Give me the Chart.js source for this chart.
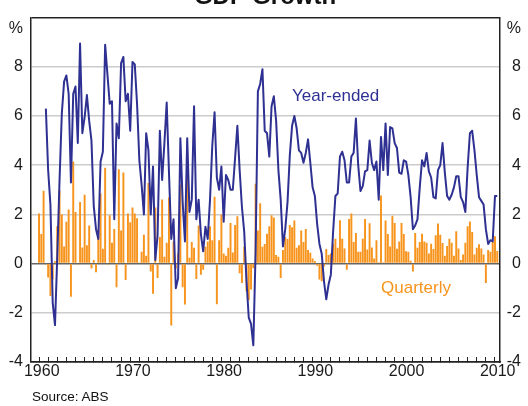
<!DOCTYPE html>
<html>
<head>
<meta charset="utf-8">
<title>GDP Growth</title>
<script src="https://cdn.jsdelivr.net/npm/chart.js@4.4.1/dist/chart.umd.min.js"></script>
<style>
  html, body { margin: 0; padding: 0; background: #fff; overflow: hidden; }
  .wrap { position: relative; width: 528px; height: 406px; overflow: hidden; font-family: "Liberation Sans", Arial, sans-serif; color: #111; }
  .title { position: absolute; left: 0; top: -16px; width: 530px; text-align: center; font-weight: bold; font-size: 24px; line-height: 24px; }
  .source { position: absolute; left: 32px; top: 389px; font-size: 13.5px; line-height: 16px; }
  canvas { position: absolute; left: 0; top: 0; }
</style>
</head>
<body>
<div class="wrap">
  <canvas id="chartGdp" width="528" height="406"></canvas>
  <div class="title">GDP Growth</div>
  <div class="source">Source: ABS</div>
</div>
<script>
"use strict";

//--------------------------------data---------------------------------
// first quarter of the series: Dec quarter 1959
const firstYear = 1959;
const firstQuarter = 4;

// quarterly growth, %
const quarterly = [
    2.04, 1.2, 2.96, -0.05, -0.56, -1.32, -0.65, 0.1, 1.52, 2.97,
    2.0, 0.7, 1.7, 2.2, -1.35, 4.15, 2.1, -0.05, 2.5, 0.65,
    2.8, 0.75, 1.55, -0.2, 0.15, -0.35, 1.4, 2.85, 0.6, 3.9,
    -0.05, 1.97, 0.85, 1.41, -0.96, 3.84, 1.35, 3.7, -0.67, 2.04,
    1.68, 2.28, 2.04, 1.84, 0.02, 0.48, 1.17, 0.32, 3.28, -0.32,
    -1.23, 2.28, -0.59, 1.08, 2.61, 0.28, 0.85, 2.69, -2.52, 0.9,
    -0.2, 0.41, 3.2, -0.96, -1.66, 4.6, 0.24, 0.88, 0.64, -0.63,
    1.55, -0.45, -0.25, 0.68, 0.9, 1.52, 0.95, 2.72, -1.65, 0.95,
    2.0, 0.41, 0.32, 0.64, 1.65, 0.45, 1.57, 1.92, -0.39, -0.79,
    0.68, -1.12, -1.49, -1.05, -0.19, 3.25, 1.35, 2.45, 0.68, 0.8,
    1.21, 1.52, 1.97, 1.87, 0.35, 0.28, -0.59, 0.55, 1.08, 1.0,
    1.57, 1.48, 1.75, 0.64, 0.75, 1.35, 0.88, 1.41, 0.55, 0.44,
    0.21, 0.11, -0.09, -0.65, -0.72, -0.12, 0.59, 0.35, 0.41, 0.81,
    1.01, 0.64, 1.76, 1.01, 0.61, -0.25, 1.81, 2.04, 0.88, 1.24,
    0.48, 0.48, 1.01, 1.81, 0.57, 1.64, 0.65, 0.21, 0.95, 0.05,
    2.77, 0.05, 1.75, 1.2, 0.7, 1.95, 1.65, 0.6, 0.9, 1.65,
    1.2, 0.5, 0.48, 0.12, -0.32, 1.24, 0.64, 0.88, 1.21, 0.9,
    0.85, 0.41, 0.81, 0.59, 1.15, 1.63, 1.17, 0.84, 0.32, 0.72,
    1.01, 0.85, 0.32, 1.32, 0.61, 0.15, 0.37, 0.85, 1.52, 1.71,
    1.28, 0.37, 0.64, 0.79, 0.61, 0.37, -0.79, 0.55, 0.48, 0.88,
    1.11, 0.51
];

// year-ended growth, % (starts Sep quarter 1960)
const yearEnded = [
    null, null, null, 6.3, 3.8, 2.4, -1.6, -2.5, 0.3, 3.4,
    6.1, 7.4, 7.65, 6.9, 3.3, 6.9, 7.2, 4.9, 8.95, 5.3,
    5.95, 6.85, 5.8, 5.0, 2.35, 1.4, 1.0, 4.15, 4.55, 8.9,
    7.7, 6.5, 6.6, 1.8, 5.7, 5.1, 8.15, 8.4, 6.6, 6.9,
    5.4, 8.2, 8.1, 6.5, 4.2, 3.2, 2.0, 5.3, 4.6, 2.0,
    3.95, 0.15, 1.15, 5.4, 3.4, 4.9, 6.55, 3.7, 1.0, 1.8,
    -1.0, -0.6, 5.1, 2.5, 0.9, 5.1, 2.1, 2.6, 6.4, 1.8,
    2.6, 1.2, 0.5, 1.5, 1.0, 2.6, 4.8, 6.15, 3.5, 3.0,
    3.95, 1.7, 3.6, 3.4, 3.0, 3.0, 4.3, 5.6, 3.8, 2.3,
    1.3, -0.7, -2.2, -2.45, -3.32, 0.5, 7.0, 7.3, 7.9, 5.4,
    5.3, 4.35, 6.4, 6.8, 5.8, 3.8, 2.6, 0.7, 1.4, 2.5,
    4.4, 5.6, 6.0, 5.5, 4.6, 4.5, 4.1, 4.5, 5.05, 4.1,
    3.1, 2.75, 1.6, 0.8, 0.4, -0.72, -1.45, -0.85, -0.45, 1.3,
    2.75, 2.85, 4.35, 4.55, 4.2, 3.3, 3.3, 4.35, 4.5, 5.9,
    4.0, 2.95, 3.15, 3.75, 3.8, 5.0, 4.1, 3.8, 4.15, 2.6,
    5.15, 3.8, 5.7, 3.6, 5.55, 5.5, 4.9, 4.7, 3.7, 3.65,
    4.2, 4.15, 3.6, 2.7, 1.4, 1.55, 1.8, 3.1, 4.2, 3.95,
    4.5, 3.75, 3.5, 2.7, 2.65, 3.8, 4.0, 4.9, 3.7, 2.75,
    2.6, 2.8, 3.1, 3.55, 3.55, 2.7, 2.5, 2.1, 3.9, 5.3,
    5.4, 4.6, 3.6, 2.7, 2.55, 2.4, 1.4, 0.8, 0.95, 0.9,
    2.75, 2.75
];

const decades = [1960, 1970, 1980, 1990, 2000, 2010];
const yTicks = [-4, -2, 0, 2, 4, 6, 8];
//--------------------------------end data---------------------------------

// quarter labels, e.g. "1959-Q4", placed at the end of the quarter on a year axis
const quarters = quarterly.map((v, i) => {
    const n = firstQuarter - 1 + i;
    return (firstYear + Math.floor(n / 4)) + '-Q' + (n % 4 + 1);
});
const quarterPos = q => {
    const parts = q.split('-Q');
    return Number(parts[0]) + Number(parts[1]) / 4;
};

const blue = '#2e3192';
const orange = '#f7941d';
const axisColor = '#222';
const unitPos = 9.56;      // where the "%" sits on the value axis
const labelOffset = 0.3;   // decade label sits a little into its year

Chart.defaults.font.family = '"Liberation Sans", Arial, sans-serif';
Chart.defaults.color = '#1a1a1a';

// year ticks on the boundaries, decade labels inside the year
const buildYearTicks = scale => {
    const ticks = [];
    for (let yr = decades[0]; yr <= decades[decades.length - 1]; yr++) {
        ticks.push({ value: yr });
        ticks.push({ value: yr + labelOffset });
    }
    scale.ticks = ticks;
};
const yearLabel = v => {
    const yr = Math.round(v - labelOffset);
    return (!Number.isInteger(v) && decades.includes(yr)) ? String(yr) : '';
};
const buildValueTicks = scale => {
    scale.ticks = yTicks.concat([unitPos, 10]).map(v => ({ value: v }));
};
const valueLabel = v => {
    if (v === unitPos) return '%';
    if (v === 10) return '';
    return String(v);
};

// series names written next to the lines
const seriesNames = {
    id: 'seriesNames',
    afterDatasetsDraw(chart, args, opts) {
        const ctx = chart.ctx;
        const x = chart.scales.x;
        const y = chart.scales.y;
        ctx.save();
        ctx.font = '17px "Liberation Sans", Arial, sans-serif';
        ctx.textBaseline = 'middle';
        ctx.textAlign = 'left';
        opts.items.forEach(item => {
            ctx.fillStyle = item.color;
            ctx.fillText(item.text, x.getPixelForValue(item.x), y.getPixelForValue(item.y));
        });
        ctx.restore();
    }
};

const gdp = document.getElementById('chartGdp').getContext('2d');
const chartGdp = new Chart(gdp, {
    type: 'bar',
    data: {
        datasets: [{
            type: 'line',
            label: 'Year-ended',
            data: quarters.map((q, i) => ({ x: quarterPos(q), y: yearEnded[i] })),
            borderColor: blue,
            borderWidth: 2,
            borderJoinStyle: 'round',
            pointRadius: 0,
            tension: 0,
            order: 0
        }, {
            type: 'bar',
            label: 'Quarterly',
            data: quarters.map((q, i) => ({ x: quarterPos(q), y: quarterly[i] })),
            backgroundColor: orange,
            borderWidth: 0,
            barPercentage: 0.85,
            categoryPercentage: 1,
            order: 1
        }]
    },
    options: {
        responsive: false,
        animation: false,
        layout: { padding: { top: 12, right: 7, bottom: 0, left: 0 } },
        plugins: {
            legend: { display: false },
            tooltip: { enabled: false },
            seriesNames: {
                items: [
                    { text: 'Year-ended', x: 1987.74, y: 6.8, color: blue },
                    { text: 'Quarterly', x: 1997.5, y: -1.0, color: orange }
                ]
            }
        },
        scales: {
            x: {
                type: 'linear',
                min: 1959.12,
                max: 2010.55,
                offset: false,
                afterBuildTicks: buildYearTicks,
                afterFit: s => { s.height = 44; },
                grid: {
                    display: true,
                    offset: false,
                    drawOnChartArea: false,
                    drawTicks: true,
                    tickLength: -5,
                    tickWidth: 1,
                    tickColor: ctx => Number.isInteger(ctx.tick.value) ? axisColor : 'rgba(0,0,0,0)'
                },
                border: { display: true, color: axisColor, width: 1.5 },
                ticks: {
                    autoSkip: false,
                    maxRotation: 0,
                    padding: 5,
                    font: { size: 16 },
                    callback: yearLabel
                }
            },
            y: {
                position: 'left',
                min: -4,
                max: 10,
                afterBuildTicks: buildValueTicks,
                afterFit: s => { s.width = 31; },
                grid: {
                    drawTicks: false,
                    lineWidth: 1.5,
                    color: ctx => {
                        const v = ctx.tick.value;
                        if (v === 0) return '#666';
                        if (v === -4 || v === 10) return axisColor;
                        if (v === unitPos) return 'rgba(0,0,0,0)';
                        return '#cccccc';
                    }
                },
                border: { display: true, color: axisColor, width: 1.5 },
                ticks: { autoSkip: false, padding: 8, font: { size: 16 }, callback: valueLabel }
            },
            y2: {
                position: 'right',
                min: -4,
                max: 10,
                afterBuildTicks: buildValueTicks,
                afterFit: s => { s.width = 21; },
                grid: { display: false },
                border: { display: true, color: axisColor, width: 1.5 },
                ticks: { autoSkip: false, crossAlign: 'far', font: { size: 16 }, callback: valueLabel }
            }
        }
    },
    plugins: [seriesNames]
});
</script>
</body>
</html>
